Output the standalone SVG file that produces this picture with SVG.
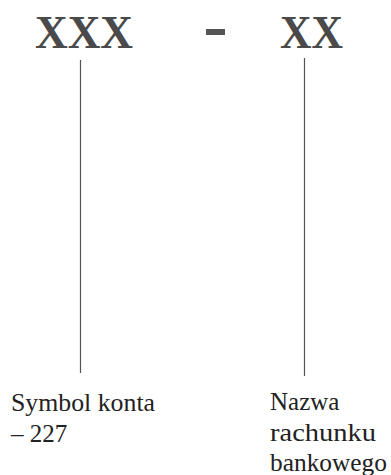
<svg xmlns="http://www.w3.org/2000/svg" width="391" height="475" viewBox="0 0 391 475">
<style>
.code{font-family:"Liberation Serif","Times New Roman",serif;font-weight:bold;font-size:46px;fill:#4a4a4a}
.lbl{font-size:25px;fill:#222}
.conn{stroke:#555;stroke-width:1.2;fill:none}
</style>
<rect width="391" height="475" fill="#fff"/>
<g id="code-xxx"><text class="code" x="35" y="48" textLength="98" lengthAdjust="spacingAndGlyphs">XXX</text></g>
<g id="dash"><rect x="206" y="29" width="19" height="6" fill="#555"/></g>
<g id="code-xx"><text class="code" x="280" y="48" textLength="63" lengthAdjust="spacingAndGlyphs">XX</text></g>
<g id="connectors">
<line class="conn" x1="80.5" y1="60" x2="80.5" y2="373"/>
<line class="conn" x1="304.5" y1="58" x2="304.5" y2="376"/>
</g>
<g id="label-symbol" font-family="'Times New Roman', 'Liberation Serif', serif">
<text class="lbl" x="11" y="411" textLength="144" lengthAdjust="spacingAndGlyphs">Symbol konta</text>
<text class="lbl" x="11" y="442">– 227</text>
</g>
<g id="label-nazwa" font-family="'Times New Roman', 'Liberation Serif', serif">
<text class="lbl" x="270" y="410">Nazwa</text>
<text class="lbl" x="270" y="441" textLength="106" lengthAdjust="spacingAndGlyphs">rachunku</text>
<text class="lbl" x="270" y="471" textLength="117" lengthAdjust="spacingAndGlyphs">bankowego</text>
</g>
</svg>
